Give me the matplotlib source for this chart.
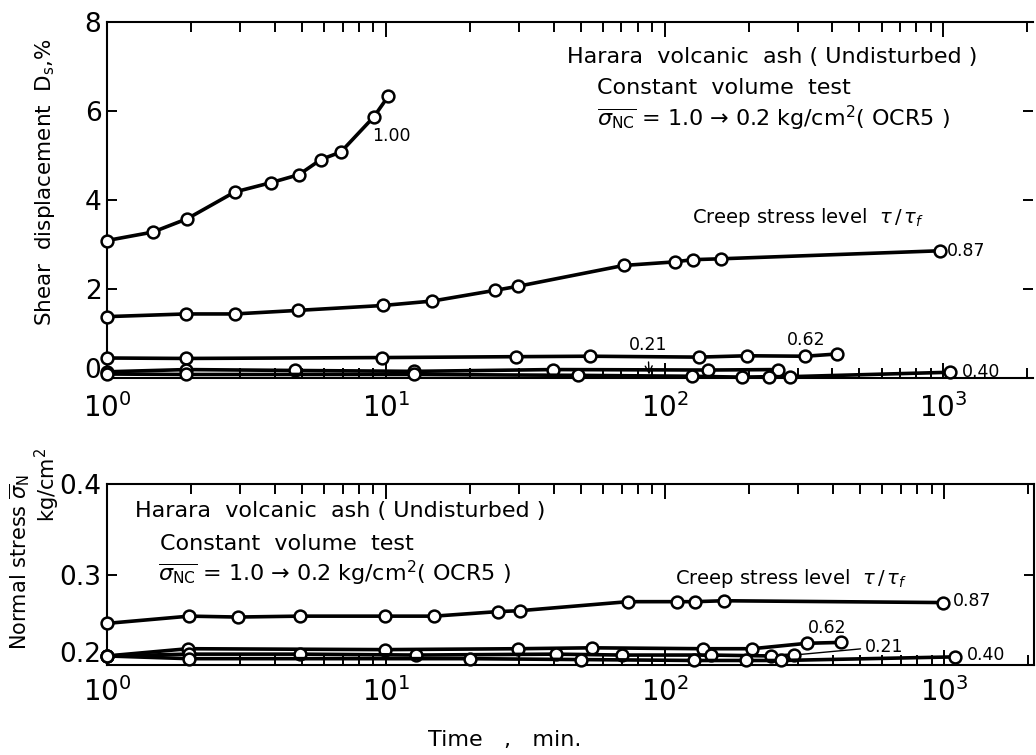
import matplotlib.pyplot as plt
from matplotlib.ticker import LogLocator, NullFormatter, FixedLocator
from matplotlib.transforms import ScaledTranslation

plt.rcParams['font.family'] = ['DejaVu Sans']
plt.rcParams['mathtext.fontset'] = 'dejavusans'

# creep levels tau/tau_f
levels = ['1.00', '0.87', '0.62', '0.21', '0.40']

# shear displacement Ds (%) against time (min)
t_ds_100 = [1, 1.46, 1.94, 2.87, 3.87, 4.88, 5.85, 6.9, 9.06, 10.2]
ds_100 = [3.09, 3.28, 3.58, 4.18, 4.39, 4.57, 4.91, 5.08, 5.87, 6.33]

t_ds_087 = [1, 1.92, 2.87, 4.84, 9.75, 14.7, 24.6, 29.7, 71.3, 108.6, 126, 160, 975]
ds_087 = [1.38, 1.44, 1.44, 1.52, 1.63, 1.73, 1.97, 2.06, 2.53, 2.61, 2.66, 2.68, 2.86]

t_ds_062 = [1, 1.92, 9.7, 29.4, 53.9, 133, 197, 320, 415]
ds_062 = [0.45, 0.44, 0.46, 0.48, 0.49, 0.47, 0.50, 0.49, 0.54]

t_ds_021 = [1, 1.92, 4.72, 12.6, 39.7, 143, 256]
ds_021 = [0.14, 0.19, 0.17, 0.15, 0.19, 0.18, 0.19]

t_ds_040 = [1, 1.92, 12.6, 48.8, 125, 189, 236, 281, 1059]
ds_040 = [0.09, 0.08, 0.08, 0.06, 0.04, 0.02, 0.03, 0.03, 0.13]

# normal stress sigma_N (kg/cm2) against time (min)
t_sn_087 = [1, 1.97, 2.94, 4.9, 9.9, 14.9, 25.1, 30.1, 73.6, 110, 128, 162, 991]
sn_087 = [0.246, 0.254, 0.253, 0.254, 0.254, 0.254, 0.259, 0.260, 0.270, 0.270, 0.270, 0.271, 0.269]

t_sn_062 = [1, 1.95, 9.9, 29.8, 54.6, 137, 205, 322, 428]
sn_062 = [0.210, 0.218, 0.217, 0.218, 0.219, 0.218, 0.218, 0.224, 0.225]

t_sn_021 = [1, 1.96, 4.9, 12.8, 40.5, 70, 146, 240, 289]
sn_021 = [0.210, 0.212, 0.212, 0.211, 0.212, 0.211, 0.211, 0.210, 0.211]

t_sn_040 = [1, 1.96, 19.9, 49.9, 127, 194, 261, 1096]
sn_040 = [0.210, 0.207, 0.207, 0.206, 0.205, 0.205, 0.205, 0.209]

ds_ticks = [0, 2, 4, 6, 8]
sn_ticks = [0.2, 0.3, 0.4]
sn_ticklabels = ['0.2', '0.3', '0.4']

fig = plt.figure(figsize=(10.36, 7.55), dpi=100)
ax1 = fig.add_axes([0.1033, 0.4993, 0.894, 0.4715])
ax2 = fig.add_axes([0.1033, 0.1192, 0.895, 0.2397])

line_kw = dict(color='black', lw=2.6, marker='o', ms=8.5, mfc='white',
               mec='black', mew=1.8, clip_on=False, zorder=3)

ax1.plot(t_ds_100, ds_100, **line_kw)
ax1.plot(t_ds_087, ds_087, **line_kw)
ax1.plot(t_ds_062, ds_062, **line_kw)
ax1.plot(t_ds_021, ds_021, **line_kw)
ax1.plot(t_ds_040, ds_040, **line_kw)

ax2.plot(t_sn_087, sn_087, **line_kw)
ax2.plot(t_sn_062, sn_062, **line_kw)
ax2.plot(t_sn_021, sn_021, **line_kw)
ax2.plot(t_sn_040, sn_040, **line_kw)

for ax, xpad in ((ax1, 11), (ax2, 9)):
    ax.set_xscale('log')
    ax.set_xlim(1, 2100)
    ax.xaxis.set_major_locator(LogLocator(base=10, numticks=10))
    ax.xaxis.set_minor_locator(LogLocator(base=10, subs=range(2, 10), numticks=20))
    ax.xaxis.set_minor_formatter(NullFormatter())
    ax.tick_params(axis='x', which='both', direction='in', top=True, bottom=True,
                   labelsize=20, pad=xpad, width=1.4)
    ax.tick_params(axis='x', which='major', length=11)
    ax.tick_params(axis='x', which='minor', length=7)
    ax.tick_params(axis='y', direction='in', left=True, right=True,
                   labelsize=19, pad=4, length=7, width=1.4)
    for s in ax.spines.values():
        s.set_linewidth(1.5)

ax1.set_ylim(0, 8)
ax1.yaxis.set_major_locator(FixedLocator(ds_ticks))
ax1.spines['right'].set_visible(False)

ax2.set_ylim(0.2, 0.4)
ax2.yaxis.set_major_locator(FixedLocator(sn_ticks))
ax2.set_yticklabels(sn_ticklabels)

# lift the lowest y label of each panel clear of the x labels
fig.canvas.draw()
for ax, dy in ((ax1, 10), (ax2, 13)):
    lab = ax.get_yticklabels()[0]
    lab.set_transform(lab.get_transform() + ScaledTranslation(0, dy / 100, fig.dpi_scale_trans))

txt = 16
sig_nc = r'$\overline{\sigma_{\rm NC}}$ = 1.0 → 0.2 kg/cm$^2$( OCR5 )'
creep = r'Creep stress level  $\tau\,/\,\tau_f$'

# upper panel notes
ax1.text(0.497, 0.902, 'Harara  volcanic  ash ( Undisturbed )', transform=ax1.transAxes,
         fontsize=txt, va='center')
ax1.text(0.529, 0.815, 'Constant  volume  test', transform=ax1.transAxes,
         fontsize=txt, va='center')
ax1.text(0.529, 0.730, sig_nc, transform=ax1.transAxes, fontsize=txt, va='center')
ax1.text(0.632, 0.452, creep, transform=ax1.transAxes, fontsize=14, va='center')

lbl = 12.5
ax1.annotate(levels[0], (t_ds_100[-2], ds_100[-2]), xytext=(-1, -14),
             textcoords='offset points', fontsize=lbl, va='center')
ax1.annotate(levels[1], (t_ds_087[-1], ds_087[-1]), xytext=(5, 0),
             textcoords='offset points', fontsize=lbl, va='center')
ax1.annotate(levels[2], (t_ds_062[-1], ds_062[-1]), xytext=(-22, 10),
             textcoords='offset points', fontsize=lbl, va='center', ha='center')
ax1.annotate(levels[3], (88, 0.08), xytext=(87, 0.75), fontsize=lbl,
             va='center', ha='center',
             arrowprops=dict(arrowstyle='->', lw=1.0, color='black', shrinkA=4, shrinkB=0))
ax1.annotate(levels[4], (t_ds_040[-1], ds_040[-1]), xytext=(8, 0),
             textcoords='offset points', fontsize=lbl, va='center')

# lower panel notes
ax2.text(0.030, 0.85, 'Harara  volcanic  ash ( Undisturbed )', transform=ax2.transAxes,
         fontsize=txt, va='center')
ax2.text(0.057, 0.667, 'Constant  volume  test', transform=ax2.transAxes,
         fontsize=txt, va='center')
ax2.text(0.055, 0.506, sig_nc, transform=ax2.transAxes, fontsize=txt, va='center')
ax2.text(0.613, 0.478, creep, transform=ax2.transAxes, fontsize=14, va='center')

ax2.annotate(levels[1], (t_sn_087[-1], sn_087[-1]), xytext=(7, 1),
             textcoords='offset points', fontsize=lbl, va='center')
ax2.annotate(levels[2], (t_sn_062[-1], sn_062[-1]), xytext=(-10, 10),
             textcoords='offset points', fontsize=lbl, va='center', ha='center')
ax2.annotate(levels[3], (t_sn_021[-1], sn_021[-1]), xytext=(51, 6),
             textcoords='offset points', fontsize=lbl, va='center',
             arrowprops=dict(arrowstyle='-', lw=1.0, color='black', shrinkA=1, shrinkB=5))
ax2.annotate(levels[4], (t_sn_040[-1], sn_040[-1]), xytext=(8, 1),
             textcoords='offset points', fontsize=lbl, va='center')

# axis titles
fig.text(45 / 1036, 1 - 182 / 755, r'Shear  displacement  D$_{\rm s}$,%', rotation=90,
         ha='center', va='center', fontsize=15.5)
fig.text(20 / 1036, 1 - 562 / 755, r'Normal stress $\overline{\sigma}_{\rm N}$', rotation=90,
         ha='center', va='center', fontsize=15)
fig.text(47 / 1036, 1 - 485 / 755, r'kg/cm$^2$', rotation=90,
         ha='center', va='center', fontsize=15)
fig.text(505 / 1036, 1 - 740 / 755, 'Time   ,   min.', ha='center', va='center', fontsize=16)

fig.savefig('out.png', dpi=100)
